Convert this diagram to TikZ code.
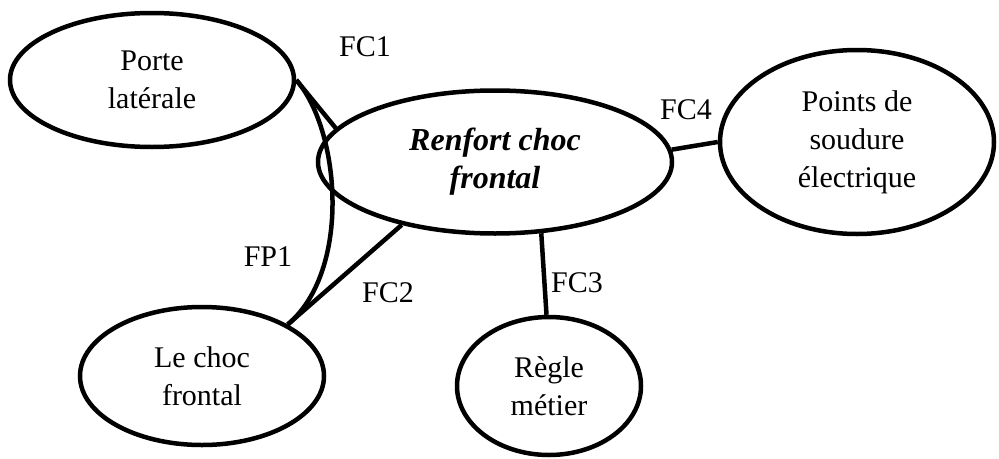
\documentclass[tikz,border=0pt]{standalone}
\usepackage{fontspec}
\setmainfont{Liberation Serif}
\usetikzlibrary{shapes.geometric}
\tikzset{
  bubble/.style={ellipse, draw, line width=4.5pt, inner sep=0pt, align=center,
    font=\fontsize{30}{38}\selectfont},
  link/.style={line width=4.5pt},
  lbl/.style={inner sep=0pt, font=\fontsize{30}{36}\selectfont}
}
\begin{document}
\begin{tikzpicture}[x=1pt,y=-1pt]
\useasboundingbox (0,0) rectangle (999,458);
\node[bubble, minimum width=284pt, minimum height=134pt] (porte) at (152,80) {Porte\\lat\'erale};
\node[bubble, minimum width=244pt, minimum height=138pt] (choc) at (202,376) {Le choc\\frontal};
\node[bubble, minimum width=354pt, minimum height=143pt, font=\fontsize{32}{38}\selectfont\bfseries\itshape] (renfort) at (495,162) {Renfort choc\\frontal};
\node[bubble, minimum width=274pt, minimum height=184pt] (points) at (857,142) {Points de\\soudure\\\'electrique};
\node[bubble, minimum width=184pt, minimum height=138pt] (regle) at (549,386) {R\`egle\\m\'etier};

\draw[link] (porte.east) -- (renfort.168);
\draw[link] (porte.east) .. controls (340,130) and (352,270) .. (choc.31);
\draw[link] (choc.31) -- (renfort.214);
\draw[link] (renfort.303) -- (regle.92);
\draw[link] (renfort.4) -- (points.west);

\node[lbl] (fc1) at (365,47) {FC1};
\node[lbl] (fp1) at (268,257) {FP1};
\node[lbl] (fc2) at (388,293) {FC2};
\node[lbl] (fc3) at (577,283) {FC3};
\node[lbl] (fc4) at (686,110) {FC4};
\end{tikzpicture}
\end{document}
